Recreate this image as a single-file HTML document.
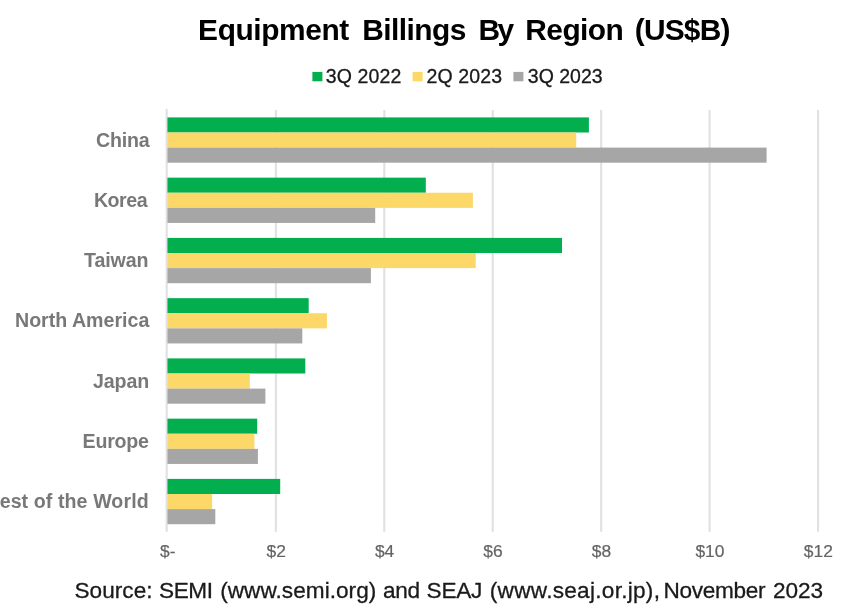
<!DOCTYPE html>
<html><head><meta charset="utf-8"><title>Equipment Billings By Region (US$B)</title><style>
html,body{margin:0;padding:0;background:#fff;}
body{width:850px;height:610px;overflow:hidden;position:relative;font-family:"Liberation Sans",Arial,sans-serif;}
svg{position:absolute;left:0;top:0;will-change:transform;filter:blur(0.45px);font-family:"Liberation Sans",Arial,sans-serif;}
.title{font-weight:bold;font-size:29.9px;fill:#000;}
.leg{font-size:19.5px;fill:#1a1a1a;stroke:#1a1a1a;stroke-width:0.3px;}
.cat{font-weight:bold;font-size:19.6px;fill:#787878;}
.ax{font-size:17.4px;fill:#646464;stroke:#646464;stroke-width:0.2px;}
.src{font-size:22.6px;fill:#1a1a1a;stroke:#1a1a1a;stroke-width:0.3px;}
</style></head><body>
<svg width="850" height="610" viewBox="0 0 850 610">
<text x="198.1" y="40.3" class="title" textLength="151.24" lengthAdjust="spacing">Equipment</text>
<text x="362.3" y="40.3" class="title" textLength="104.05" lengthAdjust="spacing">Billings</text>
<text x="478.4" y="40.3" class="title" textLength="35.82" lengthAdjust="spacing">By</text>
<text x="525.3" y="40.3" class="title" textLength="98.5" lengthAdjust="spacing">Region</text>
<text x="634.8" y="40.3" class="title" textLength="95.64" lengthAdjust="spacing">(US$B)</text>
<rect x="312.4" y="71.9" width="10" height="9.4" fill="#03AE4F"/>
<text x="325.7" y="83" class="leg" textLength="75.61" lengthAdjust="spacing">3Q 2022</text>
<rect x="412.6" y="71.9" width="10" height="9.4" fill="#FCD868"/>
<text x="426.6" y="83" class="leg" textLength="75.41" lengthAdjust="spacing">2Q 2023</text>
<rect x="513.4" y="71.9" width="10" height="9.4" fill="#A6A6A6"/>
<text x="527.8" y="83" class="leg" textLength="74.81" lengthAdjust="spacing">3Q 2023</text>
<line x1="166.70" y1="109.0" x2="166.70" y2="531.7" stroke="#E0E0E5" stroke-width="2.1"/>
<line x1="275.87" y1="109.9" x2="275.87" y2="531.7" stroke="#E0E0E5" stroke-width="2.1"/>
<line x1="384.30" y1="109.9" x2="384.30" y2="531.7" stroke="#E0E0E5" stroke-width="2.1"/>
<line x1="492.74" y1="109.9" x2="492.74" y2="531.7" stroke="#E0E0E5" stroke-width="2.1"/>
<line x1="601.17" y1="109.9" x2="601.17" y2="531.7" stroke="#E0E0E5" stroke-width="2.1"/>
<line x1="709.60" y1="109.9" x2="709.60" y2="531.7" stroke="#E0E0E5" stroke-width="2.1"/>
<line x1="818.03" y1="109.9" x2="818.03" y2="531.7" stroke="#E0E0E5" stroke-width="2.1"/>
<rect x="167.44" y="117.40" width="421.46" height="15.10" fill="#03AE4F"/>
<rect x="167.44" y="132.50" width="408.76" height="15.10" fill="#FCD868"/>
<rect x="167.44" y="147.60" width="599.16" height="15.10" fill="#A6A6A6"/>
<text x="96.1" y="146.50" class="cat" textLength="53.44" lengthAdjust="spacing">China</text>
<rect x="167.44" y="177.65" width="258.36" height="15.10" fill="#03AE4F"/>
<rect x="167.44" y="192.75" width="305.46" height="15.10" fill="#FCD868"/>
<rect x="167.44" y="207.85" width="207.76" height="15.10" fill="#A6A6A6"/>
<text x="93.9" y="206.75" class="cat" textLength="53.75" lengthAdjust="spacing">Korea</text>
<rect x="167.44" y="237.90" width="394.56" height="15.10" fill="#03AE4F"/>
<rect x="167.44" y="253.00" width="308.26" height="15.10" fill="#FCD868"/>
<rect x="167.44" y="268.10" width="203.46" height="15.10" fill="#A6A6A6"/>
<text x="84.0" y="267.00" class="cat" textLength="64.57" lengthAdjust="spacing">Taiwan</text>
<rect x="167.44" y="298.15" width="141.26" height="15.10" fill="#03AE4F"/>
<rect x="167.44" y="313.25" width="159.46" height="15.10" fill="#FCD868"/>
<rect x="167.44" y="328.35" width="134.86" height="15.10" fill="#A6A6A6"/>
<text x="15.0" y="327.25" class="cat" textLength="134.3" lengthAdjust="spacing">North America</text>
<rect x="167.44" y="358.40" width="137.86" height="15.10" fill="#03AE4F"/>
<rect x="167.44" y="373.50" width="82.36" height="15.10" fill="#FCD868"/>
<rect x="167.44" y="388.60" width="97.96" height="15.10" fill="#A6A6A6"/>
<text x="93.0" y="387.50" class="cat" textLength="56.24" lengthAdjust="spacing">Japan</text>
<rect x="167.44" y="418.65" width="89.76" height="15.10" fill="#03AE4F"/>
<rect x="167.44" y="433.75" width="86.96" height="15.10" fill="#FCD868"/>
<rect x="167.44" y="448.85" width="90.46" height="15.10" fill="#A6A6A6"/>
<text x="82.6" y="447.75" class="cat" textLength="66.4" lengthAdjust="spacing">Europe</text>
<rect x="167.44" y="478.90" width="112.76" height="15.10" fill="#03AE4F"/>
<rect x="167.44" y="494.00" width="44.66" height="15.10" fill="#FCD868"/>
<rect x="167.44" y="509.10" width="47.86" height="15.10" fill="#A6A6A6"/>
<text x="-14.6" y="508.00" class="cat" textLength="163.24" lengthAdjust="spacing">Rest of the World</text>
<text x="167.74" y="557.2" text-anchor="middle" class="ax">$-</text>
<text x="276.17" y="557.2" text-anchor="middle" class="ax">$2</text>
<text x="384.60" y="557.2" text-anchor="middle" class="ax">$4</text>
<text x="493.04" y="557.2" text-anchor="middle" class="ax">$6</text>
<text x="601.47" y="557.2" text-anchor="middle" class="ax">$8</text>
<text x="709.90" y="557.2" text-anchor="middle" class="ax">$10</text>
<text x="818.33" y="557.2" text-anchor="middle" class="ax">$12</text>
<text x="74.5" y="598.3" class="src" textLength="78.07" lengthAdjust="spacing">Source:</text>
<text x="159.0" y="598.3" class="src" textLength="54.05" lengthAdjust="spacing">SEMI</text>
<text x="220.2" y="598.3" class="src" textLength="156.07" lengthAdjust="spacing">(www.semi.org)</text>
<text x="383.1" y="598.3" class="src" textLength="36.9" lengthAdjust="spacing">and</text>
<text x="426.6" y="598.3" class="src" textLength="55.72" lengthAdjust="spacing">SEAJ</text>
<text x="489.8" y="598.3" class="src" textLength="170.15" lengthAdjust="spacing">(www.seaj.or.jp),</text>
<text x="663.4" y="598.3" class="src" textLength="102.13" lengthAdjust="spacing">November</text>
<text x="772.9" y="598.3" class="src" textLength="50.07" lengthAdjust="spacing">2023</text>
</svg>
</body></html>
